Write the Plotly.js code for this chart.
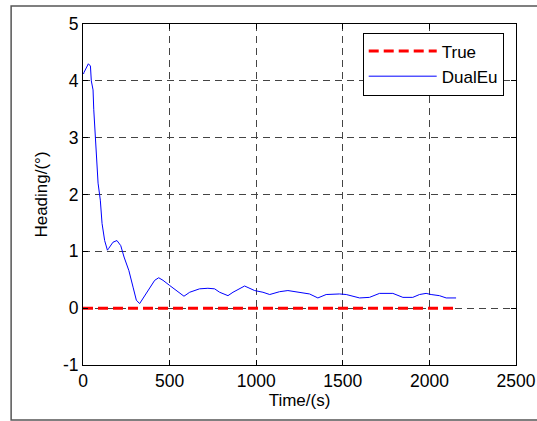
<!DOCTYPE html>
<html>
<head>
<meta charset="utf-8">
<script src="https://cdn.plot.ly/plotly-3.0.1.min.js"></script>
<style>html,body{margin:0;padding:0;background:#fff;}#chart{width:537px;height:421px;}</style>
</head>
<body>
<div id="chart"></div>
<script>
const trueTime = [0, 2154];
const trueHeading = [0, 0];
const dualTime = [3, 6, 31, 43, 48, 58, 62, 69, 77, 83, 87, 100, 110, 125, 141, 148, 173, 196, 218, 237, 265, 289, 308, 327, 346, 385, 414, 437, 462, 500, 539, 583, 616, 673, 721, 760, 789, 837, 866, 933, 991, 1039, 1078, 1135, 1183, 1250, 1308, 1356, 1404, 1481, 1520, 1597, 1635, 1654, 1712, 1789, 1847, 1904, 1943, 1981, 2010, 2058, 2097, 2154];
const dualHeading = [4.12, 4.15, 4.30, 4.26, 4.0, 3.84, 3.5, 3.07, 2.66, 2.25, 2.2, 1.90, 1.49, 1.19, 1.02, 1.05, 1.16, 1.19, 1.10, 0.90, 0.66, 0.37, 0.14, 0.08, 0.17, 0.37, 0.49, 0.535, 0.49, 0.40, 0.31, 0.21, 0.28, 0.34, 0.35, 0.34, 0.28, 0.22, 0.28, 0.39, 0.31, 0.28, 0.24, 0.29, 0.31, 0.28, 0.25, 0.18, 0.24, 0.25, 0.24, 0.18, 0.18, 0.19, 0.26, 0.26, 0.19, 0.19, 0.24, 0.26, 0.24, 0.22, 0.18, 0.18];
const xTicks = [0, 500, 1000, 1500, 2000, 2500];
const yTicks = [-1, 0, 1, 2, 3, 4, 5];

const font = {family: 'Liberation Sans, Arial, sans-serif', size: 17.5, color: '#000'};
const titleFont = {family: 'Liberation Sans, Arial, sans-serif', size: 17, color: '#000'};

const traces = [
  {x: trueTime, y: trueHeading, name: 'True', mode: 'lines', line: {color: '#ff0000', width: 3, dash: '10px,5px'}},
  {x: dualTime, y: dualHeading, name: 'DualEu', mode: 'lines', line: {color: '#0000ff', width: 1}}
];

const axisCommon = {
  showline: true, linecolor: '#000', linewidth: 1, mirror: 'ticks',
  ticks: 'inside', ticklen: 5, tickcolor: '#000',
  showgrid: true, gridcolor: '#444', gridwidth: 1, griddash: '7px,5px',
  zeroline: false, tickfont: font
};

const layout = {
  width: 537, height: 421,
  margin: {l: 83, r: 21, t: 24, b: 56},
  paper_bgcolor: '#fff', plot_bgcolor: '#fff',
  font: font,
  xaxis: Object.assign({}, axisCommon, {
    range: [0, 2500], tickvals: xTicks, ticktext: xTicks.map(String),
    title: {text: 'Time/(s)', font: titleFont, standoff: 3}
  }),
  yaxis: Object.assign({}, axisCommon, {
    range: [-1, 5], tickvals: yTicks, ticktext: yTicks.map(String),
    title: {text: 'Heading/(°)', font: titleFont, standoff: 10}
  }),
  showlegend: true,
  legend: {x: 0.646, y: 0.975, xanchor: 'left', yanchor: 'top', bgcolor: '#fff', bordercolor: '#000', borderwidth: 1, font: titleFont, tracegroupgap: 0, itemwidth: 68},
  shapes: [
    {type: 'rect', xref: 'paper', yref: 'paper', x0: -0.166, x1: 1.2, y0: -0.1613, y1: 1.0528, line: {color: '#555', width: 1.5}, layer: 'below'}
  ]
};

Plotly.newPlot('chart', traces, layout, {displayModeBar: false, staticPlot: true});
</script>
</body>
</html>
